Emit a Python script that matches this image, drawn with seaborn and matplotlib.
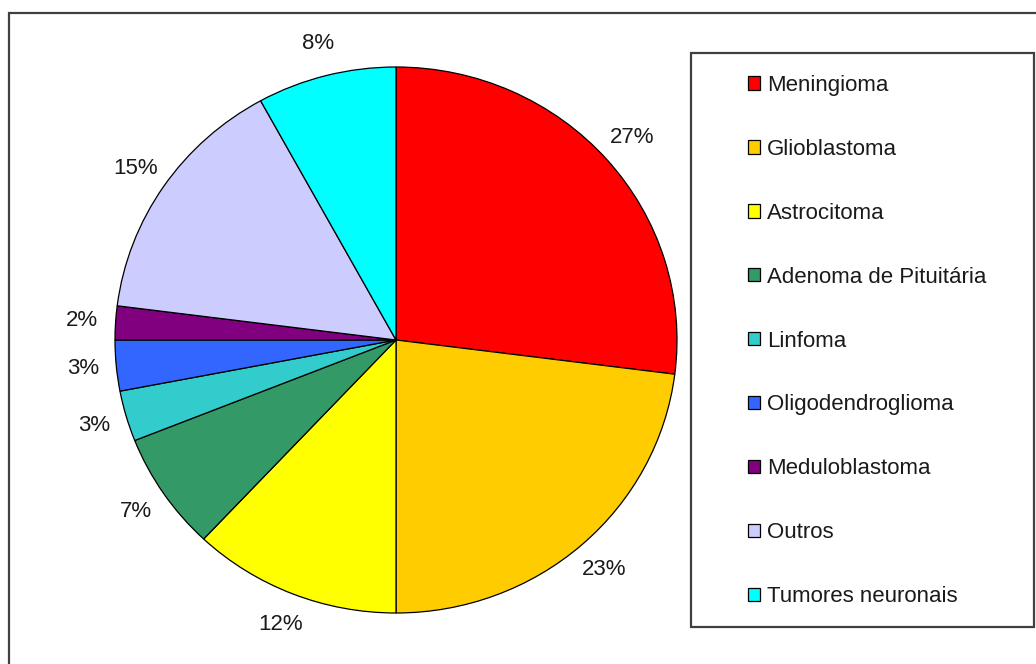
import matplotlib
matplotlib.use("Agg")
import matplotlib.pyplot as plt
from matplotlib.patches import Rectangle, Patch
import seaborn as sns

# Tumor types and their share of cases (%)
categories = ["Meningioma", "Glioblastoma", "Astrocitoma", "Adenoma de Pituitária",
              "Linfoma", "Oligodendroglioma", "Meduloblastoma", "Outros",
              "Tumores neuronais"]
shares = [27, 23, 12, 7, 3, 3, 2, 15, 8]
slice_colors = ["#FF0000", "#FFCC00", "#FFFF00", "#339966", "#33CCCC",
                "#3366FF", "#800080", "#CCCCFF", "#00FFFF"]

sns.set_theme(style="white")
plt.rcParams["font.family"] = ["Liberation Sans", "DejaVu Sans"]

W, H = 1036, 664
fig = plt.figure(figsize=(W / 100, H / 100), dpi=100)
fig.patch.set_facecolor("white")

def fig_box(x0, y0, x1, y1):
    """Pixel box (top-left origin) -> figure fraction [left, bottom, width, height]."""
    return [x0 / W, 1 - y1 / H, (x1 - x0) / W, (y1 - y0) / H]

# Outer chart frame (only top/left edges fall inside the image)
fig.patches.append(Rectangle((9 / W, -0.05), 1.1, 1 - 13 / H + 0.05,
                             transform=fig.transFigure, fill=False,
                             edgecolor="#404040", linewidth=1.6, clip_on=False))

ax = fig.add_axes(fig_box(115, 67, 677, 613))
palette = sns.color_palette(slice_colors)
wedges, texts, autotexts = ax.pie(
    shares, colors=palette, startangle=90, counterclock=False,
    autopct="%1.0f%%", pctdistance=1.12,
    wedgeprops=dict(edgecolor="black", linewidth=0.9),
    textprops=dict(fontsize=16, color="#1a1a1a"))
ax.set_aspect("auto")
ax.set_xlim(-1, 1)
ax.set_ylim(-1, 1)
for t in autotexts:
    t.set_clip_on(False)

# Legend frame
fig.patches.append(Rectangle((691 / W, 1 - 627 / H), (1034 - 691) / W, (627 - 53) / H,
                             transform=fig.transFigure, fill=False,
                             edgecolor="#404040", linewidth=1.6))

handles = [Patch(facecolor=c, edgecolor="black", linewidth=0.9) for c in slice_colors]
fig.legend(handles, categories, loc="upper left",
           bbox_to_anchor=(748 / W, 1 - 75 / H), frameon=False,
           fontsize=16, handlelength=0.55, handleheight=0.55,
           handletextpad=0.3, labelspacing=1.93, borderpad=0, borderaxespad=0,
           labelcolor="#1a1a1a")

fig.savefig("out.png", dpi=100, facecolor="white")
